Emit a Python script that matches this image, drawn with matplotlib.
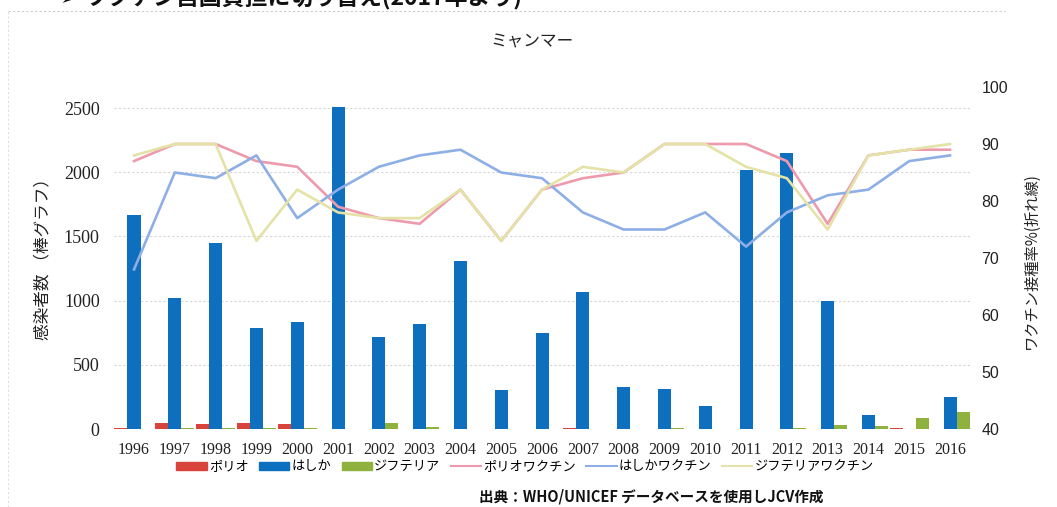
import matplotlib.pyplot as plt
import numpy as np
from matplotlib.lines import Line2D
from matplotlib.patches import Patch

plt.rcParams['font.family'] = ['Noto Sans CJK JP', 'DejaVu Sans']

years = [1996, 1997, 1998, 1999, 2000, 2001, 2002, 2003, 2004, 2005, 2006,
         2007, 2008, 2009, 2010, 2011, 2012, 2013, 2014, 2015, 2016]

# cases (bars, left axis)
polio = [5, 50, 38, 45, 41, 0, 0, 0, 0, 0, 2, 8, 0, 0, 0, 0, 0, 0, 0, 6, 0]
measles = [1670, 1020, 1450, 785, 835, 2510, 720, 820, 1310, 305, 745,
           1070, 325, 315, 180, 2020, 2150, 995, 110, 3, 250]
diphtheria = [3, 8, 10, 8, 10, 0, 45, 15, 3, 0, 3, 3, 3, 8, 3, 3, 5,
              30, 25, 85, 130]

# vaccination coverage % (lines, right axis)
polio_vac = [87, 90, 90, 87, 86, 79, 77, 76, 82, 73, 82,
             84, 85, 90, 90, 90, 87, 76, 88, 89, 89]
measles_vac = [68, 85, 84, 88, 77, 82, 86, 88, 89, 85, 84,
               78, 75, 75, 78, 72, 78, 81, 82, 87, 88]
dip_vac = [88, 90, 90, 73, 82, 78, 77, 77, 82, 73, 82,
           86, 85, 90, 90, 86, 84, 75, 88, 89, 90]

c_polio = '#d8443c'
c_measles = '#0f6fbf'
c_dip = '#8fb23e'
c_polio_vac = '#ee9aad'
c_measles_vac = '#8eaee6'
c_dip_vac = '#e4e2a6'

fig = plt.figure(figsize=(10.57, 5.07), dpi=100)
ax = fig.add_axes([0.1075, 0.1538, 0.8106, 0.6746])
ax2 = ax.twinx()

x = np.arange(len(years))
w = 0.32
ax.bar(x - w, polio, w, color=c_polio, zorder=2)
ax.bar(x, measles, w, color=c_measles, zorder=2)
ax.bar(x + w, diphtheria, w, color=c_dip, zorder=2)

ax.set_xlim(-0.5, len(years) - 0.5)
ax.set_ylim(0, 2664)
ax.set_yticks(range(0, 2501, 500))
ax.set_xticks(x)
ax.set_xticklabels([str(y) for y in years], family='Liberation Serif',
                   fontsize=11.5, color='#222222')
for lab in ax.get_yticklabels():
    lab.set_family('Liberation Serif')
    lab.set_fontsize(13)
    lab.set_color('#222222')
ax.tick_params(axis='both', length=0)
ax.tick_params(axis='y', pad=10)
ax.tick_params(axis='x', pad=9)
ax.yaxis.grid(True, color='#d6d6d6', linestyle=(0, (2, 2)), linewidth=0.8)
ax.set_axisbelow(True)

ax2.plot(x, polio_vac, color=c_polio_vac, lw=1.9)
ax2.plot(x, measles_vac, color=c_measles_vac, lw=1.9)
ax2.plot(x, dip_vac, color=c_dip_vac, lw=1.9)
ax2.set_ylim(40, 100)
ax2.set_yticks(range(40, 101, 10))
for lab in ax2.get_yticklabels():
    lab.set_family('Liberation Sans')
    lab.set_fontsize(11.5)
    lab.set_color('#222222')
ax2.tick_params(axis='y', length=0, pad=8)

for a in (ax, ax2):
    for s in a.spines.values():
        s.set_visible(False)

ax.set_ylabel('感染者数 （棒グラフ）', fontsize=12, color='#222222')
ax.yaxis.set_label_coords(-0.073, 0.51)
ax2.set_ylabel('ワクチン接種率%(折れ線)', fontsize=11, color='#222222')
ax2.yaxis.set_label_coords(1.061, 0.494)

fig.text(0.503, 0.917, 'ミャンマー', ha='center', va='center', fontsize=12,
         color='#222222')

handles = [Patch(color=c_polio), Patch(color=c_measles), Patch(color=c_dip),
           Line2D([], [], color=c_polio_vac, lw=1.5),
           Line2D([], [], color=c_measles_vac, lw=1.5),
           Line2D([], [], color=c_dip_vac, lw=1.5)]
labels = ['ポリオ', 'はしか', 'ジフテリア', 'ポリオワクチン', 'はしかワクチン',
          'ジフテリアワクチン']
fig.legend(handles, labels, loc='center', bbox_to_anchor=(0.4967, 0.079),
           ncol=6, frameon=False, fontsize=9.5, handlelength=2.3,
           handleheight=0.6, handletextpad=0.15, columnspacing=0.8)

fig.text(0.616, 0.02, '出典：WHO/UNICEF データベースを使用しJCV作成',
         ha='center', va='center', fontsize=10.5, fontweight='bold',
         color='#111111')

# slide heading, cut off at the top edge
fig.text(60 / 1057, 1 - 5 / 507, '➢ ワクチン自国負担に切り替え(2017年より)',
         ha='left', va='baseline', fontsize=16.5, fontweight='bold',
         color='#111111')

# chart frame
fig.add_artist(Line2D([8 / 1057, 1005 / 1057], [1 - 11 / 507, 1 - 11 / 507],
                      color='#cccccc', lw=0.8, linestyle=(0, (2, 2))))
fig.add_artist(Line2D([8 / 1057, 8 / 1057], [0, 1 - 11 / 507],
                      color='#e0e0e0', lw=0.8, linestyle=(0, (2, 2))))

fig.savefig('out.png', dpi=100)
